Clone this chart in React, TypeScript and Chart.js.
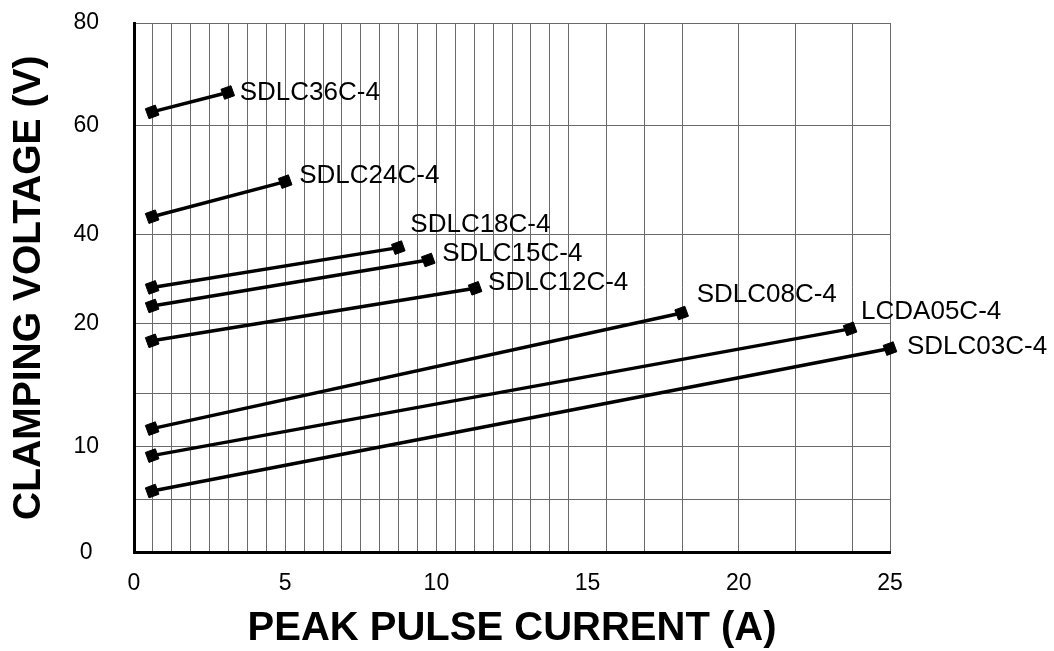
import React, { useEffect, useRef } from 'react';
import { Chart, registerables, LinearScale } from 'chart.js';

Chart.register(...registerables);

// ---------- data ----------
const seriesNames = ['SDLC36C-4', 'SDLC24C-4', 'SDLC18C-4', 'SDLC15C-4', 'SDLC12C-4', 'SDLC08C-4', 'LCDA05C-4', 'SDLC03C-4'];
const startCurrents = [0.6, 0.6, 0.6, 0.6, 0.6, 0.6, 0.6, 0.6];
const endCurrents = [3.1, 5.0, 8.74, 9.73, 11.28, 18.11, 23.68, 25.0];
const startVoltages = [62.6, 43.3, 28.1, 23.9, 18.75, 11.7, 9.14, 5.76];
const endVoltages = [66.4, 49.7, 37.1, 34.3, 27.9, 22.3, 19.6, 18.2];

const xTickValues = [0, 5, 10, 15, 20, 25];
const xGridValues = [
  0.625, 1.25, 1.875, 2.5, 3.125, 3.75, 4.375, 5, 5.625, 6.25, 6.875, 7.5, 8.125, 8.75, 9.375,
  10, 10.625, 11.25, 11.875, 12.5, 13.125, 13.75, 14.375, 15.625, 16.875, 18.125, 20, 21.875, 23.75, 25,
];
const yGridValues = [0, 5, 10, 15, 20, 40, 60, 80];
const yLabelValues = [0, 10, 20, 40, 60, 80];
// relative height (0 = bottom, 1 = top) at which each y grid value sits on the original's uneven axis
const yGridFractions = [0, 0.101, 0.2, 0.3, 0.433, 0.6, 0.807, 1];

// ---------- style ----------
const FONT = "'Liberation Sans', Arial, Helvetica, sans-serif";
const GRID_COLOR = '#6a6a6a';
const LABEL_OFFSETS: [number, number][] = [
  [12, 0], [14, -6], [12, -23], [14, -6], [13, -5], [15, -18], [11, -17], [17, -2],
];

function valueToFraction(v: number): number {
  const n = yGridValues.length;
  if (v <= yGridValues[0]) return yGridFractions[0];
  for (let i = 1; i < n; i++) {
    if (v <= yGridValues[i] || i === n - 1) {
      const a = yGridValues[i - 1], b = yGridValues[i];
      const fa = yGridFractions[i - 1], fb = yGridFractions[i];
      return fa + ((v - a) / (b - a)) * (fb - fa);
    }
  }
  return 1;
}
function fractionToValue(f: number): number {
  const n = yGridFractions.length;
  for (let i = 1; i < n; i++) {
    if (f <= yGridFractions[i] || i === n - 1) {
      const a = yGridFractions[i - 1], b = yGridFractions[i];
      const va = yGridValues[i - 1], vb = yGridValues[i];
      return va + ((f - a) / (b - a)) * (vb - va);
    }
  }
  return yGridValues[n - 1];
}

class PiecewiseScale extends LinearScale {
  static id = 'piecewise';
  static defaults = LinearScale.defaults;
  getPixelForValue(value: any) {
    if (value === null || value === undefined || isNaN(value)) return NaN;
    return this.getPixelForDecimal(valueToFraction(+value));
  }
  getValueForPixel(pixel: number) {
    return fractionToValue(this.getDecimalForPixel(pixel));
  }
}
Chart.register(PiecewiseScale as any);

const seriesLabelPlugin = {
  id: 'seriesLabels',
  afterDatasetsDraw(chart: any) {
    const ctx = chart.ctx;
    ctx.save();
    ctx.font = `26px ${FONT}`;
    ctx.fillStyle = '#000';
    ctx.textAlign = 'left';
    ctx.textBaseline = 'middle';
    chart.data.datasets.forEach((ds: any, i: number) => {
      const meta = chart.getDatasetMeta(i);
      const pt = meta.data[meta.data.length - 1];
      const [dx, dy] = LABEL_OFFSETS[i];
      ctx.fillText(ds.label, pt.x + dx, pt.y + dy);
    });
    ctx.restore();
  },
};

export default function App() {
  const canvasRef = useRef<HTMLCanvasElement | null>(null);

  useEffect(() => {
    if (!canvasRef.current) return;
    const datasets = seriesNames.map((name, i) => ({
      label: name,
      data: [
        { x: startCurrents[i], y: startVoltages[i] },
        { x: endCurrents[i], y: endVoltages[i] },
      ],
      xAxisID: 'x',
      yAxisID: 'y',
      borderColor: '#000',
      backgroundColor: '#000',
      borderWidth: 3.5,
      pointStyle: 'rect',
      pointRotation: -20,
      pointRadius: 7.5,
      pointBorderWidth: 1,
      pointBorderColor: '#000',
      pointBackgroundColor: '#000',
      tension: 0,
      clip: false as any,
    }));

    const chart = new Chart(canvasRef.current, {
      type: 'line',
      data: { datasets } as any,
      plugins: [seriesLabelPlugin],
      options: {
        animation: false,
        responsive: false,
        maintainAspectRatio: false,
        layout: { padding: { top: 23, right: 164, left: 0, bottom: 0 } },
        plugins: {
          legend: { display: false },
          tooltip: { enabled: false },
        },
        scales: {
          x: {
            type: 'linear',
            position: 'bottom',
            min: 0,
            max: 25,
            afterBuildTicks: (s: any) => {
              s.ticks = xTickValues.map((v) => ({ value: v }));
            },
            ticks: {
              padding: 17,
              color: '#000',
              font: { family: FONT, size: 23 },
              maxRotation: 0,
              autoSkip: false,
            },
            grid: { display: false, drawTicks: false },
            border: { display: true, color: '#000', width: 3 },
            title: {
              display: true,
              text: 'PEAK PULSE CURRENT (A)',
              color: '#000',
              font: { family: FONT, size: 40, weight: 'bold', lineHeight: 1 },
              padding: { top: 0, bottom: 2 },
            },
            afterFit: (s: any) => {
              s.height = 98.5;
              s.paddingLeft = 10;
              s.paddingRight = 10;
            },
          },
          xg: {
            type: 'linear',
            position: 'top',
            min: 0,
            max: 25,
            afterBuildTicks: (s: any) => {
              s.ticks = xGridValues.map((v) => ({ value: v }));
            },
            ticks: { display: false },
            grid: { display: true, drawTicks: false, color: GRID_COLOR, lineWidth: 1 },
            border: { display: false },
            afterFit: (s: any) => {
              s.height = 0;
              s.paddingLeft = 0;
              s.paddingRight = 0;
            },
          },
          y: {
            type: 'piecewise' as any,
            position: 'left',
            min: 0,
            max: 80,
            afterBuildTicks: (s: any) => {
              s.ticks = yGridValues.map((v) => ({ value: v }));
            },
            ticks: {
              callback: (v: any) => (yLabelValues.includes(+v) ? String(v) : ''),
              crossAlign: 'center',
              padding: 35,
              autoSkip: false,
              color: '#000',
              font: { family: FONT, size: 23 },
            },
            grid: { display: true, drawTicks: false, color: GRID_COLOR, lineWidth: 1 },
            border: { display: true, color: '#000', width: 3 },
            title: {
              display: true,
              text: 'CLAMPING VOLTAGE (V)',
              color: '#000',
              font: { family: FONT, size: 39, weight: 'bold', lineHeight: 1 },
              padding: { top: 10, bottom: 0 },
            },
            afterFit: (s: any) => {
              s.width = 134;
              s.paddingTop = 14;
              s.paddingBottom = 14;
            },
          } as any,
        },
      } as any,
    });
    return () => chart.destroy();
  }, []);

  return (
    <div style={{ position: 'fixed', left: 0, top: 0, width: 1054, height: 651, background: '#fff' }}>
      <canvas ref={canvasRef} width={1054} height={651} style={{ display: 'block', width: 1054, height: 651 }} />
    </div>
  );
}
